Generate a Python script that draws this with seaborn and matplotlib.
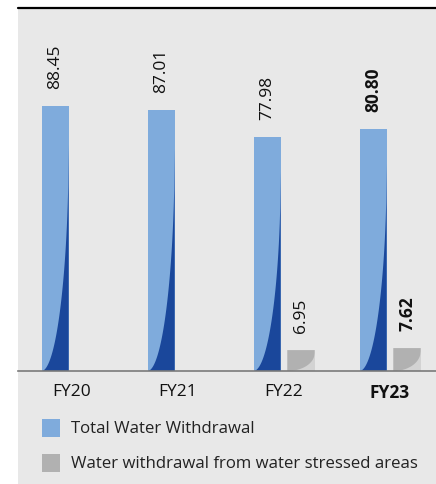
import numpy as np
import pandas as pd
import matplotlib
matplotlib.use('Agg')
import matplotlib.pyplot as plt
from matplotlib.patches import Rectangle, Polygon
import seaborn as sns

years = ['FY20', 'FY21', 'FY22', 'FY23']
total_withdrawal = [88.45, 87.01, 77.98, 80.80]
stressed_withdrawal = [np.nan, np.nan, 6.95, 7.62]
series_names = ['Total Water Withdrawal', 'Water withdrawal from water stressed areas']

df = pd.DataFrame({
    'year': years * 2,
    'value': total_withdrawal + stressed_withdrawal,
    'series': [series_names[0]] * 4 + [series_names[1]] * 4,
})

BG = '#e8e8e8'
BLUE_LIGHT = '#7fabdc'
BLUE_DARK = '#1a479b'
GREY_DARK = '#b1b1b1'
GREY_LIGHT = '#d3d3d3'

sns.set_theme(style='white')
plt.rcParams['font.family'] = ['Open Sans', 'DejaVu Sans']

fig = plt.figure(figsize=(4.36, 4.84), dpi=100)
W, H = 436, 484
# grey panel behind everything
fig.patches.append(Rectangle((18 / W, 0), 1 - 18 / W, 1 - 8 / H, transform=fig.transFigure,
                             facecolor=BG, edgecolor='none', zorder=-10))
fig.lines.append(plt.Line2D([18 / W, 1], [1 - 8 / H, 1 - 8 / H], transform=fig.transFigure,
                            color='black', lw=1.6, zorder=-5))

ax = fig.add_axes([18 / W, (H - 371) / H, 1 - 18 / W, (371 - 8) / H])
ax.set_facecolor('none')

sns.barplot(data=df, x='year', y='value', hue='series', order=years,
            hue_order=series_names, palette=[BLUE_LIGHT, GREY_LIGHT],
            width=0.64, gap=0.2, legend=False, ax=ax, saturation=1, errorbar=None,
            linewidth=0, edgecolor='none')

ax.set_xlim(-0.51, -0.51 + 418 / 106)
ax.set_ylim(0, 121)


def curve_pts(x0, w, ry, n=60):
    t = np.linspace(0, 1, n)
    return np.column_stack([x0 + t * w, ry * (1 - np.sqrt(1 - t ** 2))])


for ci, cont in enumerate(ax.containers):
    for bar in cont:
        h = bar.get_height()
        if not np.isfinite(h) or h <= 0:
            continue
        x0, w = bar.get_x(), bar.get_width()
        pts = curve_pts(x0, w, 0.85 * h)
        if ci == 0:
            poly = np.vstack([pts, [[x0 + w, 0]]])
            ax.add_patch(Polygon(poly, closed=True, facecolor=BLUE_DARK, edgecolor='none', zorder=3))
        else:
            poly = np.vstack([pts, [[x0 + w, h], [x0, h]]])
            ax.add_patch(Polygon(poly, closed=True, facecolor=GREY_DARK, edgecolor='none', zorder=3))
        bold = abs(x0 + w / 2 - 3) < 0.5
        ax.annotate(f'{h:.2f}', (x0 + w / 2, h), xytext=(0, 12), textcoords='offset points',
                    rotation=90, ha='center', va='bottom', fontsize=12.5,
                    fontweight='bold' if bold else 'normal', color='#111111')

for s in ['top', 'left', 'right']:
    ax.spines[s].set_visible(False)
ax.spines['bottom'].set_color('#7a7a7a')
ax.spines['bottom'].set_linewidth(1.2)
ax.spines['bottom'].set_zorder(4)
ax.set_yticks([])
ax.set_xlabel('')
ax.set_ylabel('')
ax.tick_params(axis='x', length=0, pad=9, labelsize=12.5, colors='#111111')
for lbl in ax.get_xticklabels():
    if lbl.get_text() == 'FY23':
        lbl.set_fontweight('bold')

# legend drawn manually
for i, (name, col) in enumerate(zip(series_names, [BLUE_LIGHT, GREY_DARK])):
    yt = 419 + i * 35
    fig.patches.append(Rectangle((42 / W, 1 - (yt + 18) / H), 18 / W, 18 / H,
                                 transform=fig.transFigure, facecolor=col, edgecolor='none'))
    fig.text(71 / W, 1 - (yt + 10) / H, name, ha='left', va='center', fontsize=12.1,
             color='#222222')

fig.savefig('out.png', dpi=100, facecolor='white')
